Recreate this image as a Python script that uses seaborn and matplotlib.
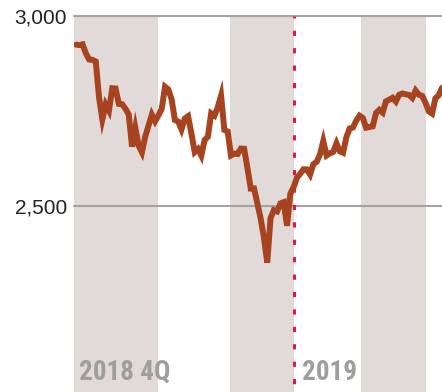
import matplotlib
matplotlib.use("Agg")
import matplotlib.pyplot as plt
import matplotlib.transforms as mtransforms
from matplotlib import font_manager
import numpy as np
import pandas as pd
import seaborn as sns

# S&P 500 daily closes, 2018-10-01 .. 2019-03-13 (one value per trading day)
oct_2018 = [2924.59, 2923.43, 2925.51, 2901.61, 2885.57, 2884.43, 2880.34, 2785.68,
            2728.37, 2767.13, 2750.79, 2809.92, 2809.21, 2768.78, 2767.78, 2755.88,
            2740.69, 2656.10, 2705.57, 2658.69, 2641.25, 2682.63, 2711.74]
nov_2018 = [2740.37, 2723.06, 2738.31, 2755.45, 2813.89, 2806.83, 2781.01, 2726.22,
            2722.18, 2701.58, 2730.20, 2736.27, 2690.73, 2641.89, 2649.93, 2632.56,
            2673.45, 2682.17, 2743.79, 2737.80, 2760.17]
dec_2018 = [2790.37, 2700.06, 2695.95, 2633.08, 2637.72, 2636.78, 2651.07, 2650.54,
            2599.95, 2545.94, 2546.16, 2506.96, 2467.42, 2416.62, 2351.10, 2467.70,
            2488.83, 2485.74, 2506.85]
jan_2019 = [2510.03, 2447.89, 2531.94, 2549.69, 2574.41, 2584.96, 2596.64, 2596.26,
            2582.61, 2610.30, 2616.10, 2635.96, 2670.71, 2632.90, 2638.70, 2642.33,
            2664.76, 2643.85, 2640.00, 2681.05, 2704.10]
feb_2019 = [2706.53, 2724.87, 2737.70, 2731.61, 2706.05, 2707.88, 2709.80, 2744.73,
            2753.03, 2745.73, 2775.60, 2779.76, 2784.70, 2774.88, 2792.67, 2796.11,
            2793.90, 2792.38, 2784.49]
mar_2019 = [2803.69, 2792.81, 2789.65, 2771.45, 2748.93, 2743.07, 2783.30, 2791.52,
            2810.92]

# alternating month shading, in trading-day positions
shaded_periods = [(-0.6, 24.85), (46.7, 66.1), (86.4, 106.1)]
year_break = 66.1
y_ticks = [2500, 3000]
y_tick_labels = ["2,500", "3,000"]
period_labels = ["2018 4Q", "2019"]
period_label_x = [0.9, 68.5]

closes = oct_2018 + nov_2018 + dec_2018 + jan_2019 + feb_2019 + mar_2019
df = pd.DataFrame({"day": np.arange(len(closes)), "close": closes})

sns.set_style("white")
plt.rcParams["font.family"] = ["Liberation Sans", "DejaVu Sans"]

# pick a narrow bold face for the period labels if one is available
names = {f.name for f in font_manager.fontManager.ttflist}
stretches = {(f.name, f.stretch) for f in font_manager.fontManager.ttflist}
label_font = dict(family=["DejaVu Sans"], fontstretch="normal", fontsize=17)
for cand in ["Liberation Sans Narrow", "Roboto Condensed", "Open Sans Condensed",
             "DejaVu Sans Condensed"]:
    if cand in names:
        label_font = dict(family=[cand], fontstretch="normal", fontsize=19.5)
        break
else:
    if any(n == "DejaVu Sans" and s == "condensed" for n, s in stretches):
        label_font = dict(family=["DejaVu Sans"], fontstretch="condensed", fontsize=19)

W, H = 442, 392
fig = plt.figure(figsize=(W / 100, H / 100), dpi=100)
ax = fig.add_axes([74 / W, 0, 1 - 74 / W, (H - 16) / H])

for a, b in shaded_periods:
    ax.axvspan(a, b, color="#e1dad9", lw=0, zorder=0)

for y in y_ticks:
    ax.axhline(y, color="#a3a3a3", lw=1.5, zorder=1, clip_on=False)

ax.axvline(year_break, color="#e0174a", lw=2.2, linestyle=(3, (1.7, 4.0)),
           dash_capstyle="butt", zorder=2)

sns.lineplot(data=df, x="day", y="close", ax=ax, color="#a8431f", lw=4.3,
             zorder=3, solid_joinstyle="miter")

ax.set_xlim(-0.6, 111)
ax.set_ylim(2010.5, 3000)
ax.set_xticks([])
ax.set_yticks(y_ticks)
ax.set_yticklabels(y_tick_labels, fontsize=15, color="#222222")
ax.tick_params(axis="y", length=0, pad=5)
ax.set_xlabel("")
ax.set_ylabel("")
for s in ax.spines.values():
    s.set_visible(False)

trans = mtransforms.blended_transform_factory(ax.transData, ax.transAxes)
for lbl, x in zip(period_labels, period_label_x):
    ax.text(x, 12 / (H - 16), lbl, transform=trans, ha="left", va="baseline",
            fontweight="bold", color="#9e9e9e", zorder=4, **label_font)

fig.savefig("out.png", dpi=100)
